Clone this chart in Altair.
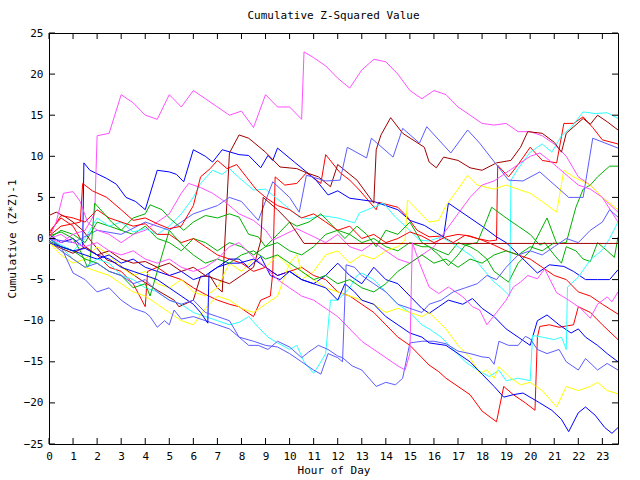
import altair as alt
import pandas as pd

# ---- series (hour, value) ----
R1 = [(0,0.8),(0.5,2.5),(1,1.5),(1.5,-1),(2,-2),(2.5,-3.5),(3,-4),(3.5,-5.5),(4,-8.3),(4.1,-4),(4.5,-3.5),(5,-4.5),(5.5,-5),(6,-6),(6.5,-6.8),(7,-7.5),(7.5,-8),(7.9,-8.3),(8.5,-9.5),(8.8,-7.5),(9.2,-7),(9.3,-4.2),(9.4,7.5),(9.8,6.5),(10.3,6.7),(10.7,8.0),(11.3,6.7),(11.5,10.2),(12.1,8.0),(12.5,7.1),(12.9,5.9),(13.6,3.5),(13.7,4.4),(14.5,3.8),(14.9,2.6),(15.3,1.0),(15.8,0.2),(16.3,0.3),(16.8,-0.5),(17.3,0.4),(17.8,0.0),(18.3,-0.3),(18.6,-0.2),(18.65,8.9),(19.1,7.5),(19.5,9.0),(20,11.1),(20.5,9.5),(21.1,9.2),(21.4,14.0),(21.8,14.0),(22.2,14.8),(22.6,13.5),(23,12.0),(23.65,11.5)]
R2 = [(0,0.5),(0.5,2.8),(1,2.5),(1.5,2),(2,3.5),(2.5,2.5),(3,2),(3.5,1.5),(4,1.8),(4.5,0.5),(5,0.5),(5.5,-0.5),(6,0),(6.5,-1),(7,-2),(7.5,-2.5),(8,-3),(8.5,-4),(9,-3.5),(9.5,-4.5),(10,-4),(10.5,-3.5),(11,-4.5),(11.5,-5),(12,-6.5),(12.5,-7),(13,-8),(13.5,-9),(14,-10.5),(14.5,-12),(15,-13),(15.5,-14.5),(15.8,-15.4),(16.2,-16.2),(16.5,-17),(17,-18),(17.5,-19),(18,-21),(18.6,-22.3),(18.9,-18),(19.3,-19),(19.8,-20),(20.2,-20.9),(20.3,-12),(20.4,-10.7),(20.8,-10.5),(21.2,-10.8),(21.8,-10.5),(22,-8.3),(22.5,-9),(23,-10.5),(23.65,-12.3)]
R3 = [(0,0.3),(0.5,1.5),(1,1.8),(1.3,2),(1.4,6.7),(1.8,5.8),(2.4,5),(3,3.5),(3.5,2.2),(4,2.5),(4.5,1.8),(5,1.2),(5.5,1.5),(6,4),(6.3,7.5),(6.7,8.5),(7,9.5),(7.4,8.5),(7.8,9),(8.2,7.5),(8.6,6),(9,5),(9.5,4),(10,3.5),(10.5,2.5),(11,3),(11.5,2),(12,1),(12.5,1.5),(13,0),(13.5,0.5),(14,-0.5),(14.5,0),(15,0.8),(15.5,0.3),(16,-0.5),(16.5,0.2),(17,0.5),(17.5,0.3),(18,-0.2),(18.5,-0.8),(19,-1.5),(19.5,-2),(20,-2.5),(20.5,-3.5),(21,-4.5),(21.5,-5),(22,-6.5),(22.5,-7),(23,-8),(23.65,-9.2)]
DR1 = [(0,2.8),(0.3,3.2),(0.7,2.6),(1,2),(1.4,1),(1.8,-0.5),(2.4,-2.6),(2.8,-3),(3.2,-3.8),(3.8,-5),(4.5,-6.3),(5.2,-7.5),(5.4,-8.3),(6,-7.5),(6.3,-4.6),(6.7,-4.6),(7,-6),(7.2,-6.5),(7.5,10.4),(7.9,12.6),(8.3,12.2),(9,10.5),(9.6,8.7),(10.3,8.5),(10.7,8),(11.2,7.5),(11.7,6.3),(12,9),(12.8,7.1),(13.5,4.3),(13.6,10.8),(13.8,12.6),(14.2,14.7),(14.7,12.8),(15.6,11.1),(15.8,9.3),(16.1,8.6),(16.4,9.9),(17,9.5),(17.5,8.6),(18,8.3),(18.6,9.2),(19.2,9.5),(19.6,11.1),(19.9,13),(20.5,12.8),(21,11.7),(21.3,10.5),(21.5,12.8),(22.2,14.6),(22.5,13.9),(22.8,15),(23.2,14.2),(23.65,13.2)]
DR2 = [(0,-0.5),(0.5,-1.2),(1,-1.8),(1.5,-1),(2,-2),(2.5,-1.5),(3,-2.5),(3.5,-3),(4,-2.8),(4.5,-3.5),(5,-3),(5.5,-4),(6,-3.5),(6.5,-4.5),(7,-5),(7.5,-5.5),(8,-4.5),(8.5,-3.5),(8.8,-0.3),(8.9,5),(9.5,3.5),(10,2),(10.6,-0.6),(23.65,-0.6)]
G1 = [(0,0),(0.5,1),(1,0.5),(1.5,-0.5),(2,2),(2.5,1.5),(3,1),(3.5,0.5),(4,1.5),(4.5,0),(5,-0.5),(5.5,-1.5),(6,0),(6.5,-0.5),(7,-1.5),(7.5,-0.5),(8,-1),(8.5,-2),(9,-1),(9.5,-0.5),(10,-1.5),(10.5,-2),(11,-1),(11.5,0.5),(12,1),(12.5,0.5),(13,-0.5),(13.5,0),(14,-1),(14.5,-1.5),(15,-0.5),(15.5,-1),(15.8,-1),(16.2,-1.5),(16.6,-2),(17,-0.5),(17.5,-1),(17.8,-1.5),(18.2,-2.5),(18.5,-4),(19.1,-5.3),(19.5,-3),(20,-1.5),(20.7,2.5),(21.1,-0.6),(21.5,-0.5),(21.9,3.8),(22.2,6),(22.5,6.5),(22.8,7.5),(23.3,8.8),(23.65,8.8)]
G2 = [(0,0.3),(0.5,0.8),(1,0),(1.3,-1.5),(1.6,-3.5),(1.7,-3),(1.9,4.3),(2.3,3),(2.6,2),(3,1),(3.5,2.5),(4,3),(4.2,4.1),(4.7,3.5),(5,2.5),(5.6,1),(6,2),(6.5,2.8),(7,2.5),(7.5,3),(7.9,2.6),(8.3,0.5),(8.7,0.2),(9,-1),(9.5,0.5),(10,2),(10.3,1.5),(10.8,2),(11.3,3),(11.8,1.5),(12.3,0),(12.8,1.5),(13.2,0.5),(13.6,-1),(14,1),(14.5,0.5),(15,2),(15.5,-0.5),(15.8,-1),(16.2,-2),(16.6,-3.3),(17,-2),(17.3,-0.8),(17.8,-0.5),(18.2,2.3),(18.4,3.8),(19,2.5),(19.5,1.5),(20,0.5),(20.4,-0.8),(20.6,-0.5),(21,-2),(21.3,-3),(21.5,-1),(21.9,-1.5),(22.2,-2.5),(22.5,-2.8),(22.8,-0.5),(23.2,-1.5),(23.5,-2.3),(23.65,0.2)]
G3 = [(0,-0.3),(0.5,-1),(1,-1.5),(1.5,-2.5),(2,-3),(2.5,-4),(3,-4.5),(3.5,-6),(4,-5.5),(4.2,-7),(4.5,-4),(4.8,-1),(5,1),(5.3,0),(5.6,-1),(6,-2),(6.5,-3),(7,-2.5),(7.5,-3),(8,-2),(8.5,-1.5),(9,-2.5),(9.5,-2),(10,-3),(10.5,-4),(11,-5),(11.5,-4.5),(12,-5.5),(12.5,-5),(13,-6),(13.5,-6.5),(14,-5.5),(14.5,-4),(15,-3),(15.5,-2),(16,-3),(16.5,-2.5),(17,-3.5),(17.5,-2.5),(18,-3),(18.5,-2),(19,-1.5),(19.5,-2),(20,-1),(20.5,-1.5),(21,-0.5)]
B1 = [(0,0.5),(0.5,-0.5),(1,0),(1.4,-1),(1.45,9.2),(1.7,8.3),(2.4,7.3),(2.8,6.6),(3.2,5),(3.6,4.5),(4,3.5),(4.5,8.3),(5,8.1),(5.3,7.8),(5.6,6.9),(6,10.8),(6.5,10),(6.8,9.3),(7.2,10.8),(7.9,10.2),(8.3,10.1),(8.8,8.6),(9.1,10.1),(9.3,9.5),(9.5,11),(10.2,9.3),(10.7,8.1),(11.1,7.1),(11.6,5.3),(12,5.8),(12.5,4.9),(13,4.7),(13.5,4.5),(14.5,3.5),(15,2.2),(15.6,1.6),(16.1,0.7),(16.4,0.2),(16.6,4.3),(17,3.5),(17.5,2.5),(18,1.5),(18.6,0.2),(19,-0.5),(19.5,-1.9),(20.3,-4.2),(20.8,-3.2),(21.4,-3.4),(21.8,-4),(22.3,-5),(22.8,-5),(23.3,-5),(23.65,-3.8)]
B2 = [(0,0),(0.5,-1),(1,-1.5),(1.5,-2),(2,-2.5),(2.5,-2),(3,-3),(3.5,-2.5),(4,-3.5),(4.5,-4),(5,-4.5),(5.5,-4),(6,-5),(6.5,-4.5),(7,-3.5),(7.5,-3),(7.9,-3),(8.5,-2.5),(9,-3.5),(9.5,-4.5),(10,-4),(10.5,-5),(11,-5.5),(11.5,-4.5),(12,-3),(12.5,-4.5),(13,-5.5),(13.5,-3.5),(14,-5),(14.5,-5.5),(15,-7),(15.5,-8.5),(15.8,-9.1),(16.2,-8.3),(16.6,-7.5),(17.2,-8),(17.6,-7.3),(18,-8.5),(18.5,-9.5),(19,-11),(19.5,-12),(20,-13),(20.3,-10),(20.7,-9.3),(21.2,-10.5),(21.7,-11.5),(22,-11),(22.3,-12),(22.8,-13),(23.2,-14),(23.65,-15)]
B3 = [(0,-0.5),(0.5,-1),(1,-1.5),(1.5,-1.2),(2,-2),(2.5,-2.5),(3,-3.5),(3.5,-4),(4,-4.5),(4.5,-5),(5,-6),(5.5,-7),(6,-8),(6.3,-9),(6.6,-10.3),(6.65,-4.2),(7,-3.5),(7.5,-2.5),(7.9,-2.5),(8.3,-3.5),(8.8,-2.2),(9.2,-4.5),(9.6,-5),(10,-4),(10.5,-5),(11,-5.5),(11.5,-6),(12,-7.5),(12.3,-5.5),(12.7,-6.5),(13,-7.5),(13.5,-8),(14,-9.5),(14.5,-10.5),(15,-11.5),(15.5,-12),(15.8,-12.7),(16.5,-13),(17,-14),(17.5,-15),(18,-16.5),(18.5,-18),(18.9,-19.3),(19.3,-19),(19.7,-18.8),(20.4,-20),(20.9,-20.9),(21.3,-22),(21.6,-23.5),(22,-21.2),(22.3,-20.5),(22.7,-21.5),(23.1,-23),(23.4,-23.7),(23.65,-23)]
M1 = [(0,0),(0.5,-0.5),(1,0.5),(1.5,1),(1.9,3),(2,12.5),(2.5,12.8),(3,17.5),(3.5,16.5),(4,15),(4.5,14.5),(5,17.5),(5.5,16),(6,18),(6.5,17),(7,16),(7.5,15),(8,15.5),(8.5,13.5),(9,17.5),(9.5,16),(10,16),(10.5,14.5),(10.6,22.7),(11,22),(11.5,21),(12,19.5),(12.5,18.3),(13,20.5),(13.5,21.8),(14,21.5),(14.5,20),(15,18),(15.5,17),(16,18),(16.5,17.5),(17,16),(17.5,15),(18,14),(18.5,13.8),(19,14),(19.5,13),(20,13),(20.5,12.5),(21,11.5),(21.5,10),(22,7.5),(22.5,6.5),(23,5),(23.65,3.2)]
M2 = [(0,0),(0.3,2),(0.6,5.5),(1,5.7),(1.3,4.5),(1.6,2),(2,1),(2.5,0.5),(3,-0.5),(3.5,0.5),(4,1),(4.5,2),(5,3),(5.5,5.5),(5.8,6.7),(6.3,6.2),(6.8,5.5),(7.3,4.5),(7.9,3),(8.5,2.2),(9,1),(9.3,-0.2),(9.8,0.5),(10.3,1.2),(10.8,0.5),(11.5,-0.5),(12,0.5),(12.5,-1),(13,-1.5),(13.5,-0.5),(14,-1.5),(14.5,-2.5),(15,-3),(15.5,-2),(16,-1),(16.5,1),(17,3),(17.5,5),(18,6.5),(18.5,7),(19,8),(19.5,9),(20,10),(20.4,10.4),(20.8,9.5),(21.2,8.5),(21.6,7.5),(22,6.5),(22.5,6),(23,5),(23.65,2)]
M3 = [(0,0),(0.5,0.5),(1,-0.5),(1.5,-1),(2,-0.5),(2.5,-1.5),(3,-2),(3.5,-1.5),(4,-2.5),(4.5,-3),(5,-2.5),(5.5,-3.5),(6,-4),(6.5,-3.5),(7,-2.5),(7.5,-1),(7.9,-0.5),(8.4,-2),(9,-3.5),(9.5,-5),(10,-6),(10.5,-7),(11,-7.5),(11.5,-8.5),(12,-9.5),(12.5,-11),(13,-12.5),(13.5,-13.5),(14,-14.5),(14.5,-15.5),(14.8,-16),(15,-14),(15.1,-0.5),(15.4,-3),(15.8,-5.9),(16.2,-6.7),(16.6,-5.9),(17.2,-7.1),(17.6,-8.3),(17.9,-8.7),(18.2,-10.5),(18.6,-9),(19,-7.5),(19.3,-5.9),(19.6,-5.3),(19.9,-4.5),(20.3,-4.9),(20.6,-3.7),(21.1,-6.6),(21.6,-7.5),(22.1,-8.5),(22.5,-9.7),(22.8,-8),(23.2,-7.1),(23.4,-7.7),(23.65,-6.5)]
C1 = [(0,0),(0.5,-0.8),(1,-1.5),(1.5,0),(2,2.5),(2.5,1.5),(3,2),(3.5,0.8),(4,1.2),(4.5,0.5),(5,1.5),(5.5,3),(6,5),(6.3,6.7),(6.8,8.3),(7.2,7.8),(7.5,8.5),(7.9,7.4),(8.5,5.9),(9,6),(9.7,4.3),(10.4,2.6),(10.8,2.4),(11.3,2.8),(12,2.5),(12.7,1.9),(12.9,3.1),(13.9,4.3),(14.4,2.6),(15.1,0.7),(15.4,-0.2),(15.8,-0.3),(16.3,0.2),(17,-1),(17.6,-2.2),(18.5,-5.3),(18.8,-6),(19.15,-7),(19.2,7.1),(19.5,8.5),(20,10.5),(20.5,11.5),(20.9,10.5),(21.3,12.5),(21.7,13.5),(22.2,15.4),(22.7,15.2),(23.2,15.3),(23.65,14.6)]
C2 = [(0,0),(0.5,-1),(1,-2.5),(1.5,-3.5),(2,-2.5),(2.5,-3),(3,-4.5),(3.5,-5),(4,-6),(4.5,-6.5),(5,-7.5),(5.5,-8),(6,-9),(6.5,-9.5),(7,-10),(7.5,-10.5),(7.9,-10.2),(8.3,-9.5),(8.7,-10.8),(9.1,-12),(9.5,-12.7),(10,-13.5),(10.3,-13),(10.6,-15),(11,-16.4),(11.3,-15),(11.5,-14),(11.7,-7.5),(12,-7.5),(12.5,-6),(12.8,-4.5),(13,-4.2),(13.5,-5),(14,-6.5),(14.5,-8),(15,-9),(15.5,-10.5),(15.8,-11),(16.3,-12),(16.8,-13.5),(17.3,-15),(17.8,-16),(18.3,-16.8),(18.7,-16),(19,-17.3),(19.5,-17),(20,-17.3),(20.1,-11.8),(20.5,-12),(21,-12.3),(21.3,-12),(21.5,-13.5),(21.55,-5.9),(22,-4.7),(22.5,-2.6),(23,-1.4),(23.3,0),(23.65,2)]
Y1 = [(0,-0.5),(0.5,-2),(1,-3),(1.5,-2.5),(2,-1),(2.5,-2),(3,-3.5),(3.5,-4.5),(4,-4),(4.5,-5.5),(5,-6),(5.5,-5),(6,-6.5),(6.5,-7),(7,-6),(7.5,-3),(8,-4),(8.5,-2.5),(9,-3.5),(9.5,-2),(10,-3.5),(10.5,-5),(11,-4),(11.5,-2),(12,-1.5),(12.5,-3),(13,-2),(13.5,-2.5),(14,-1.5),(14.5,-1),(14.8,-0.2),(14.9,4.7),(15.3,3.5),(15.8,2),(16.2,2.2),(16.5,4),(17,6),(17.4,7.7),(17.8,6.5),(18.5,6),(19,6.5),(19.5,6),(20,5.5),(20.5,4.5),(21.1,3.2),(21.4,8.3),(21.8,7.5),(22.5,6.5),(23,5),(23.65,3.5)]
Y2 = [(0,-0.5),(0.5,-1.5),(1,-2.5),(1.5,-3.5),(2,-4),(2.5,-4.5),(3,-5.5),(3.5,-6.5),(4,-7),(4.5,-8),(5,-9),(5.5,-10),(6,-10.5),(6.5,-8.5),(7,-7),(7.5,-7.5),(8,-8.5),(8.5,-9),(9,-8),(9.5,-7),(10,-3),(10.3,-2),(10.5,-4),(11,-5),(11.5,-6),(12,-6.5),(12.5,-7),(13,-7.5),(13.5,-8),(14,-9),(14.5,-8.5),(15,-9),(15.5,-9.5),(15.8,-9),(16.5,-11),(17,-13),(17.5,-14.5),(17.9,-16.4),(18.2,-16),(18.5,-17),(18.7,-15.6),(19.2,-17),(19.6,-17.8),(20,-17.5),(20.5,-18.5),(21.1,-20.5),(21.5,-18),(22,-18.5),(22.5,-18),(22.8,-17.5),(23.2,-18.5),(23.65,-18.9)]
S1 = [(0,0),(1,-0.5),(2,1),(3,0.5),(4,2),(5,1),(6,3),(7,4),(7.5,5),(8,4.5),(8.7,2.2),(9.3,6.9),(10,5),(10.4,3.2),(10.7,7.7),(11.5,7),(12.1,7.1),(12.4,11.1),(13.2,9.8),(13.4,12.2),(14.3,9.9),(14.7,13.4),(15.4,11.6),(15.7,13.6),(16.7,10.4),(17.4,13.2),(17.9,11.6),(19.1,7.1),(19.7,7),(20.4,8.1),(21.6,5),(22.2,5),(22.6,12.2),(23.65,11)]
S2 = [(0,0),(0.5,-1),(1,-4.2),(1.5,-5),(2,-6.5),(2.5,-6),(3,-7.5),(3.5,-8.5),(4,-9),(4.2,-9.5),(4.5,-10.8),(4.8,-10),(5,-10.5),(5.2,-8.7),(5.5,-9.8),(6,-9.5),(6.5,-10),(7,-10.5),(7.5,-11),(7.9,-12),(8.3,-13),(8.7,-13),(9.1,-13.5),(9.5,-12.5),(10,-13.2),(10.5,-14.5),(10.8,-13.8),(11.2,-13),(11.6,-13.5),(12,-14.3),(12.2,-14.5),(12.6,-15.5),(13,-16),(13.6,-18),(14,-17.5),(14.4,-17.8),(14.7,-17),(15,-12.7),(15.5,-12.5),(16,-12.5),(16.5,-12.8),(17,-13.7),(17.5,-14),(18,-14.4),(18.3,-14.5),(18.5,-15.3),(18.7,-12.5),(19.1,-13),(19.5,-13),(19.8,-11.9),(20,-12.2),(20.3,-13.5),(20.7,-14),(21.2,-13.5),(21.5,-15),(22,-16),(22.3,-14.6),(22.8,-16),(23.2,-15.2),(23.65,-16)]
S3 = [(0,-0.3),(0.5,-1.5),(1,-2.5),(1.5,-3.5),(2,-3),(2.5,-4),(3,-4.5),(3.5,-5.5),(4,-5),(4.5,-6.5),(5,-7.5),(5.5,-8),(6,-7.5),(6.5,-9),(7,-9.5),(7.5,-10),(7.9,-12),(8.5,-12.5),(9,-13),(9.5,-13.2),(10,-14),(10.5,-15),(11,-16),(11.3,-16.5),(11.6,-14),(12,-14.5),(12.2,-15),(12.35,-3.2),(12.7,-3.5),(13,-4.5),(13.5,-5.5),(14,-6.5),(14.5,-8),(15,-8.5),(15.5,-9),(15.8,-8),(16.3,-7.5),(16.8,-6.5),(17.3,-6),(17.8,-5.5),(18.2,-4.5),(18.6,-5),(19,-3.5),(19.5,-2),(20,-1.5),(20.5,-2),(21,-1),(21.5,0),(22,-0.5),(22.5,1),(23,2),(23.3,3.5),(23.65,2.6)]

SERIES = [
    ("R1", "#ff0000", R1), ("G1", "#00b000", G1), ("B1", "#0000ff", B1), ("M1", "#ff50ff", M1),
    ("C1", "#30ffff", C1), ("DR1", "#a00000", DR1), ("Y1", "#ffff00", Y1), ("S1", "#5c5cff", S1),
    ("R2", "#ff0000", R2), ("G2", "#00b000", G2), ("B2", "#0000ff", B2), ("M2", "#ff50ff", M2),
    ("C2", "#30ffff", C2), ("DR2", "#a00000", DR2), ("Y2", "#ffff00", Y2), ("S2", "#5c5cff", S2),
    ("R3", "#ff0000", R3), ("G3", "#00b000", G3), ("B3", "#0000ff", B3), ("M3", "#ff50ff", M3),
    ("S3", "#5c5cff", S3),
]

HOUR_TICKS = list(range(0, 24))
VALUE_TICKS = list(range(-25, 26, 5))

X_MAX = 23.65
W, H = 569, 411
FONT = "DejaVu Sans Mono"

rows = []
for name, col, pts in SERIES:
    for i, (h, v) in enumerate(pts):
        rows.append({"series": name, "hour": h, "value": v, "i": i})
df = pd.DataFrame(rows)

xs = alt.Scale(domain=[0, X_MAX], nice=False, zero=False)
ys = alt.Scale(domain=[-25, 25], nice=False)

AX = alt.Axis(values=HOUR_TICKS, ticks=False, domain=False, grid=False,
              labelFont=FONT, labelFontSize=11, labelColor="black",
              labelPadding=6, labelOverlap=False, labelFlush=False,
              labelSeparation=0,
              titleFont=FONT, titleFontSize=11,
              titleFontWeight="normal", titleColor="black", titlePadding=3)
AY = alt.Axis(values=VALUE_TICKS, ticks=False, domain=False, grid=False,
              labelFont=FONT, labelFontSize=11, labelColor="black",
              labelPadding=6, labelOverlap=False,
              titleFont=FONT, titleFontSize=11,
              titleFontWeight="normal", titleColor="black", titlePadding=6)

lines = alt.Chart(df).mark_line(strokeWidth=1, clip=True).encode(
    x=alt.X("hour:Q", scale=xs, title="Hour of Day", axis=AX),
    y=alt.Y("value:Q", scale=ys, title="Cumulative (Z*Z)-1", axis=AY),
    color=alt.Color("series:N", legend=None,
                    scale=alt.Scale(domain=[s[0] for s in SERIES], range=[s[1] for s in SERIES])),
    order="i:Q",
)

xt = pd.DataFrame({"t": HOUR_TICKS})
yt = pd.DataFrame({"t": VALUE_TICKS})
tick_bottom = alt.Chart(xt).mark_rule(color="black", strokeWidth=1).encode(
    x=alt.X("t:Q", scale=xs, title="Hour of Day", axis=AX), y=alt.value(H), y2=alt.value(H - 6))
tick_top = alt.Chart(xt).mark_rule(color="black", strokeWidth=1).encode(
    x=alt.X("t:Q", scale=xs, title="Hour of Day", axis=AX), y=alt.value(0), y2=alt.value(6))
tick_left = alt.Chart(yt).mark_rule(color="black", strokeWidth=1).encode(
    y=alt.Y("t:Q", scale=ys, title="Cumulative (Z*Z)-1", axis=AY), x=alt.value(0), x2=alt.value(6))
tick_right = alt.Chart(yt).mark_rule(color="black", strokeWidth=1).encode(
    y=alt.Y("t:Q", scale=ys, title="Cumulative (Z*Z)-1", axis=AY), x=alt.value(W), x2=alt.value(W - 6))

chart = alt.layer(lines, tick_bottom, tick_top, tick_left, tick_right).properties(
    width=W, height=H,
    title=alt.TitleParams("Cumulative Z-Squared Value", font=FONT, fontSize=11,
                          fontWeight="normal", color="black", anchor="middle", offset=6),
    padding={"left": 49, "top": 33, "right": 22, "bottom": 36},
    autosize="none",
    background="white",
).configure_view(stroke="black", strokeWidth=1).configure_axis(labelOverlap=False)

chart.save("out.html", embed_options={"renderer": "svg", "actions": False})
